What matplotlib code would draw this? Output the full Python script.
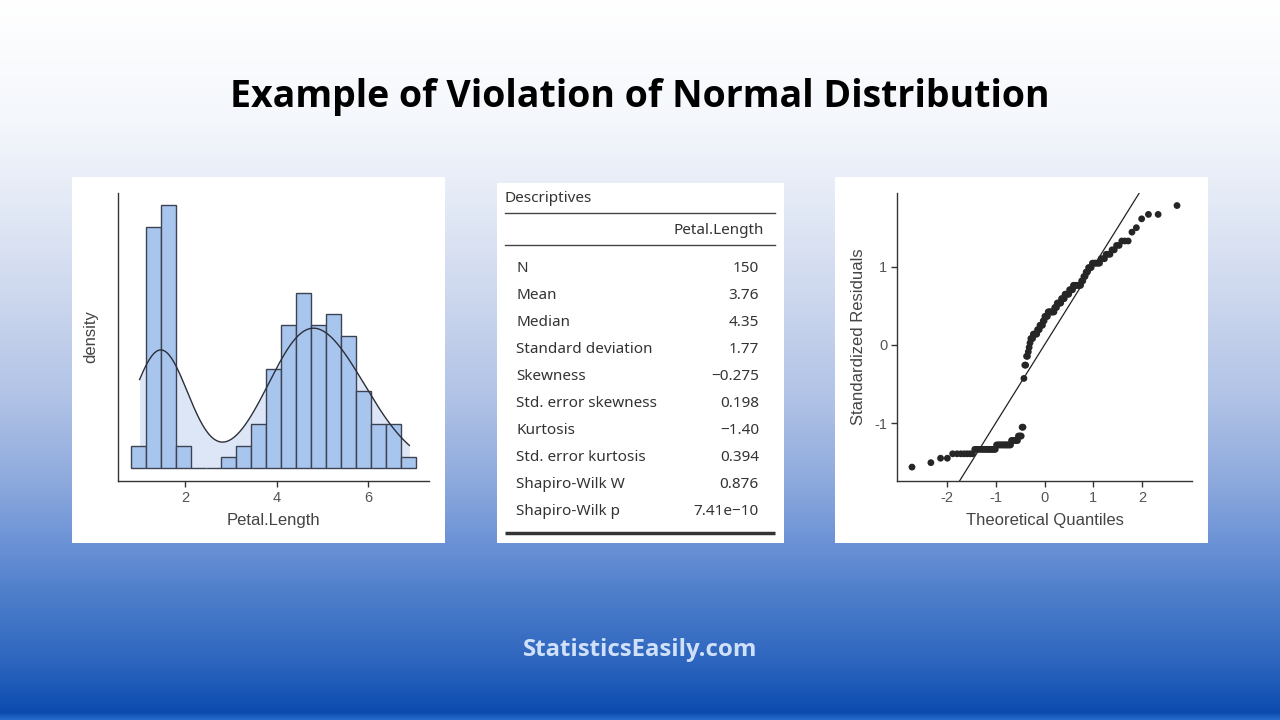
import numpy as np
import matplotlib
matplotlib.use("Agg")
import matplotlib.pyplot as plt
from matplotlib.patches import Rectangle
from statistics import NormalDist

# iris Petal.Length, as value -> frequency
petal_values = [1.0, 1.1, 1.2, 1.3, 1.4, 1.5, 1.6, 1.7, 1.9,
                3.0, 3.3, 3.5, 3.6, 3.7, 3.8, 3.9, 4.0, 4.1, 4.2, 4.3, 4.4, 4.5,
                4.6, 4.7, 4.8, 4.9, 5.0, 5.1, 5.2, 5.3, 5.4, 5.5, 5.6, 5.7, 5.8,
                5.9, 6.0, 6.1, 6.3, 6.4, 6.6, 6.7, 6.9]
petal_counts = [1, 1, 2, 7, 13, 13, 7, 4, 2,
                1, 2, 2, 1, 1, 1, 3, 5, 3, 4, 2, 4, 8,
                3, 5, 4, 5, 4, 8, 2, 2, 2, 3, 6, 3, 3,
                2, 2, 3, 1, 1, 1, 2, 1]

hist_range = (0.82, 7.04)
hist_bins = 19
hist_ticks = [2, 4, 6]

stat_names = ["N", "Mean", "Median", "Standard deviation", "Skewness",
              "Std. error skewness", "Kurtosis", "Std. error kurtosis",
              "Shapiro-Wilk W", "Shapiro-Wilk p"]
stat_values = ["150", "3.76", "4.35", "1.77", "\u22120.275", "0.198",
               "\u22121.40", "0.394", "0.876", "7.41e\u221210"]

qq_xticks = [-2, -1, 0, 1, 2]
qq_yticks = [-1, 0, 1]

W, H = 1280, 720
plt.rcParams["axes.unicode_minus"] = False


def fx(px):
    return px / W


def fy(py):
    return 1 - py / H


fig = plt.figure(figsize=(12.8, 7.2), dpi=100)

# background gradient + white panels
bg = fig.add_axes([0, 0, 1, 1])
bg.set_xlim(0, W)
bg.set_ylim(H, 0)
bg.axis("off")
stops_y = [0, 120, 200, 300, 400, 480, 540, 600, 660, 712, 720]
stops_c = ["#ffffff", "#f4f7fc", "#e4eaf6", "#ccd7ee", "#b0c2e6", "#8eaadd",
           "#6d93d6", "#4a7cc9", "#2e66bf", "#0b4bae", "#2a6fd0"]
rgb = np.array([matplotlib.colors.to_rgb(c) for c in stops_c])
yy = np.arange(H)
grad = np.stack([np.interp(yy, stops_y, rgb[:, k]) for k in range(3)], axis=-1)
bg.imshow(grad[:, None, :], extent=(0, W, H, 0), aspect="auto")
for x0, y0, x1, y1 in [(72, 177, 445, 543), (497, 183, 784, 543), (835, 177, 1208, 543)]:
    bg.add_patch(Rectangle((x0, y0), x1 - x0, y1 - y0, facecolor="white", edgecolor="none"))

fig.text(0.5, fy(97), "Example of Violation of Normal Distribution", ha="center", va="center",
         fontsize=27, fontweight="bold", family="Open Sans", color="black")
fig.text(0.5, fy(650), "StatisticsEasily.com", ha="center", va="center",
         fontsize=17.3, fontweight="bold", family="Open Sans", color="#cfe0f8")

data = np.repeat(petal_values, petal_counts)
n = len(data)

# ---- histogram + density ----
ax1 = fig.add_axes([fx(118), fy(481), fx(429 - 118), (481 - 193) / H])
edges = np.linspace(hist_range[0], hist_range[1], hist_bins + 1)
q75, q25 = np.percentile(data, [75, 25])
bw = 0.9 * min(data.std(ddof=1), (q75 - q25) / 1.34) * n ** -0.2   # R nrd0
grid = np.linspace(data.min(), data.max(), 400)
dens = np.exp(-0.5 * ((grid[:, None] - data[None, :]) / bw) ** 2).sum(axis=1) / (n * bw * np.sqrt(2 * np.pi))
ax1.fill_between(grid, 0, dens, color="#dde6f6", lw=0, zorder=1)
ax1.hist(data, bins=edges, density=True, color="#a8c5ee", edgecolor="#3c4454", lw=1.0, zorder=2)
ax1.plot(grid, dens, color="#2a2f3a", lw=1.0, zorder=3)
ax1.set_xlim(0.527, 7.33)
binw = edges[1] - edges[0]
unit = 1 / (n * binw)
ax1.set_ylim(-1.22 * unit, 25.1 * unit)
ax1.set_xticks(hist_ticks)
ax1.set_yticks([])
ax1.tick_params(axis="x", length=4, width=1, color="#333333", labelsize=10.5, labelcolor="#555555", pad=3)
for s in ["top", "right"]:
    ax1.spines[s].set_visible(False)
for s in ["left", "bottom"]:
    ax1.spines[s].set_color("#333333")
    ax1.spines[s].set_linewidth(1.0)
ax1.set_xlabel("Petal.Length", fontsize=12, color="#444444", family="Liberation Sans", labelpad=6)
ax1.set_ylabel("density", fontsize=12, color="#444444", family="Liberation Sans", labelpad=14)
ax1.patch.set_alpha(0)

# ---- descriptives table ----
tx = fig.add_axes([fx(497), fy(543), fx(784 - 497), (543 - 183) / H])
tx.set_xlim(497, 784)
tx.set_ylim(543, 183)
tx.axis("off")
tfont = dict(family="Noto Sans", fontsize=11, color="#333333")
tx.text(505, 198, "Descriptives", ha="left", va="center", **tfont)
tx.plot([505, 775], [213, 213], color="#444444", lw=1.0)
tx.text(764, 231, "Petal.Length", ha="right", va="center", **tfont)
tx.plot([505, 775], [245, 245], color="#444444", lw=1.0)
for i, (name, val) in enumerate(zip(stat_names, stat_values)):
    y = 268 + i * 27.1
    tx.text(516, y, name, ha="left", va="center", **tfont)
    tx.text(759, y, val, ha="right", va="center", **tfont)
tx.plot([505, 775], [533, 533], color="#333333", lw=2.5, solid_capstyle="butt")

# ---- Q-Q plot ----
ax2 = fig.add_axes([fx(897), fy(481), fx(1192 - 897), (481 - 193) / H])
resid = np.sort((data - data.mean()) / data.std(ddof=1))
theo = np.array([NormalDist().inv_cdf((i + 0.5) / n) for i in range(n)])
ax2.axline((0, 0), slope=1, color="#222222", lw=0.9)
ax2.scatter(theo, resid, s=24, color="#262626", edgecolor="none", zorder=3)
ax2.set_xlim(-3.02, 3.02)
ax2.set_ylim(-1.74, 1.94)
ax2.set_xticks(qq_xticks)
ax2.set_yticks(qq_yticks)
ax2.tick_params(length=4, width=1, color="#333333", labelsize=10.5, labelcolor="#555555", pad=3)
for s in ["top", "right"]:
    ax2.spines[s].set_visible(False)
for s in ["left", "bottom"]:
    ax2.spines[s].set_color("#333333")
    ax2.spines[s].set_linewidth(1.0)
ax2.set_xlabel("Theoretical Quantiles", fontsize=12, color="#444444", family="Liberation Sans", labelpad=6)
ax2.set_ylabel("Standardized Residuals", fontsize=12, color="#444444", family="Liberation Sans", labelpad=6)
ax2.patch.set_alpha(0)

for ax in (ax1, ax2):
    for lab in ax.get_xticklabels() + ax.get_yticklabels():
        lab.set_family("Liberation Sans")

fig.savefig("out.png", dpi=100)
